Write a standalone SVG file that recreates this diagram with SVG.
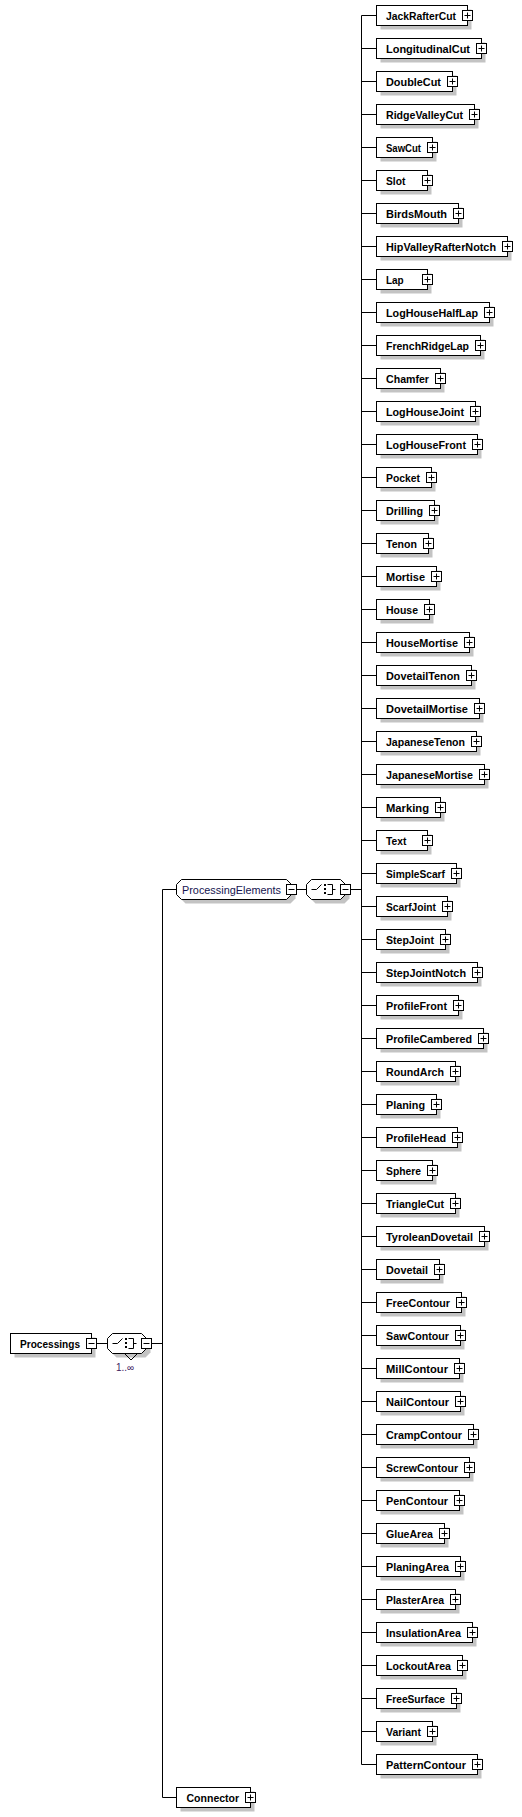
<svg xmlns="http://www.w3.org/2000/svg" width="522" height="1817" viewBox="0 0 522 1817">
<style>
.bx{fill:#fff;stroke:#000;stroke-width:1}
.sh{fill:#c3c3c3;stroke:none}
.ln{fill:none;stroke:#000;stroke-width:1}
.lb{font-family:"Liberation Sans",Arial,sans-serif;font-size:11px;font-weight:bold;fill:#000}
.lr{font-family:"Liberation Sans",Arial,sans-serif;font-size:11px;fill:#141450}
.oc{font-family:"Liberation Sans",Arial,sans-serif;font-size:10px;fill:#402060}
</style>
<defs>
<g id="plus"><rect x="-5" y="-5" width="10" height="10" class="bx"/><path d="M-3 0H3M0-3V3" class="ln"/></g>
<g id="minus"><rect x="-5" y="-5" width="10" height="10" class="bx"/><path d="M-3 0H3" class="ln"/></g>
<path id="oct" d="M5 0H34L39 5V15L34 20H5L0 15V5Z"/>
<g id="seqsym"><path d="M5 10H10L15 5M21 5H26V15H21M26 10H29" class="ln"/><rect x="17.5" y="4.5" width="2" height="2"/><rect x="17.5" y="8.5" width="2" height="2"/><rect x="17.5" y="12.5" width="2" height="2"/></g>
</defs>
<g id="connectors" class="ln">
<path d="M361.5 15.5V1764.5M162.5 889.5V1797.5"/>
<path d="M361.5 15.5H376.5M361.5 48.5H376.5M361.5 81.5H376.5M361.5 114.5H376.5M361.5 147.5H376.5M361.5 180.5H376.5M361.5 213.5H376.5M361.5 246.5H376.5M361.5 279.5H376.5M361.5 312.5H376.5M361.5 345.5H376.5M361.5 378.5H376.5M361.5 411.5H376.5M361.5 444.5H376.5M361.5 477.5H376.5M361.5 510.5H376.5M361.5 543.5H376.5M361.5 576.5H376.5M361.5 609.5H376.5M361.5 642.5H376.5M361.5 675.5H376.5M361.5 708.5H376.5M361.5 741.5H376.5M361.5 774.5H376.5M361.5 807.5H376.5M361.5 840.5H376.5M361.5 873.5H376.5M361.5 906.5H376.5M361.5 939.5H376.5M361.5 972.5H376.5M361.5 1005.5H376.5M361.5 1038.5H376.5M361.5 1071.5H376.5M361.5 1104.5H376.5M361.5 1137.5H376.5M361.5 1170.5H376.5M361.5 1203.5H376.5M361.5 1236.5H376.5M361.5 1269.5H376.5M361.5 1302.5H376.5M361.5 1335.5H376.5M361.5 1368.5H376.5M361.5 1401.5H376.5M361.5 1434.5H376.5M361.5 1467.5H376.5M361.5 1500.5H376.5M361.5 1533.5H376.5M361.5 1566.5H376.5M361.5 1599.5H376.5M361.5 1632.5H376.5M361.5 1665.5H376.5M361.5 1698.5H376.5M361.5 1731.5H376.5M361.5 1764.5H376.5"/>
<path d="M96.5 1343.5H107.5M151.5 1343.5H162.5M162.5 889.5H176.5M296.5 889.5H306.5M350.5 889.5H361.5M162.5 1797.5H176.5"/>
</g>
<g id="Processings">
<rect x="14.5" y="1337.5" width="81" height="20" class="sh"/>
<rect x="10.5" y="1333.5" width="81" height="20" class="bx"/>
<text x="20" y="1348" class="lb" textLength="60" lengthAdjust="spacingAndGlyphs">Processings</text>
<use href="#minus" x="91.5" y="1343.5"/>
</g>
<g id="seq-root">
<use href="#oct" x="111.5" y="1337.5" class="sh"/>
<path d="M125 1354L131 1360L137 1354" class="ln"/>
<use href="#oct" x="107.5" y="1333.5" class="bx"/>
<use href="#seqsym" x="107.5" y="1333.5"/>
<use href="#minus" x="146.5" y="1343.5"/>
<text x="125" y="1371" class="oc" text-anchor="middle">1..∞</text>
</g>
<g id="ProcessingElements">
<path d="M185.5 883.5H290.5L295.5 888.5V898.5L290.5 903.5H185.5L180.5 898.5V888.5Z" class="sh"/>
<path d="M181.5 879.5H286.5L291.5 884.5V894.5L286.5 899.5H181.5L176.5 894.5V884.5Z" class="bx"/>
<text x="182" y="894" class="lr" textLength="99" lengthAdjust="spacingAndGlyphs">ProcessingElements</text>
<use href="#minus" x="291.5" y="889.5"/>
</g>
<g id="seq-elements">
<use href="#oct" x="310.5" y="883.5" class="sh"/>
<use href="#oct" x="306.5" y="879.5" class="bx"/>
<use href="#seqsym" x="306.5" y="879.5"/>
<use href="#minus" x="345.5" y="889.5"/>
</g>
<g id="Connector">
<rect x="180.5" y="1791.5" width="74" height="20" class="sh"/>
<rect x="176.5" y="1787.5" width="74" height="20" class="bx"/>
<text x="186.5" y="1802" class="lb" textLength="52.6" lengthAdjust="spacingAndGlyphs">Connector</text>
<use href="#plus" x="250.5" y="1797.5"/>
</g>
<g id="JackRafterCut" transform="translate(0,0)"><rect x="380.5" y="9.5" width="91" height="20" class="sh"/><rect x="376.5" y="5.5" width="91" height="20" class="bx"/><text x="386" y="20" class="lb" textLength="70" lengthAdjust="spacingAndGlyphs">JackRafterCut</text><use href="#plus" x="467.5" y="15.5"/></g>
<g id="LongitudinalCut" transform="translate(0,33)"><rect x="380.5" y="9.5" width="105" height="20" class="sh"/><rect x="376.5" y="5.5" width="105" height="20" class="bx"/><text x="386" y="20" class="lb" textLength="84" lengthAdjust="spacingAndGlyphs">LongitudinalCut</text><use href="#plus" x="481.5" y="15.5"/></g>
<g id="DoubleCut" transform="translate(0,66)"><rect x="380.5" y="9.5" width="76" height="20" class="sh"/><rect x="376.5" y="5.5" width="76" height="20" class="bx"/><text x="386" y="20" class="lb" textLength="55" lengthAdjust="spacingAndGlyphs">DoubleCut</text><use href="#plus" x="452.5" y="15.5"/></g>
<g id="RidgeValleyCut" transform="translate(0,99)"><rect x="380.5" y="9.5" width="98" height="20" class="sh"/><rect x="376.5" y="5.5" width="98" height="20" class="bx"/><text x="386" y="20" class="lb" textLength="77" lengthAdjust="spacingAndGlyphs">RidgeValleyCut</text><use href="#plus" x="474.5" y="15.5"/></g>
<g id="SawCut" transform="translate(0,132)"><rect x="380.5" y="9.5" width="56" height="20" class="sh"/><rect x="376.5" y="5.5" width="56" height="20" class="bx"/><text x="386" y="20" class="lb" textLength="35" lengthAdjust="spacingAndGlyphs">SawCut</text><use href="#plus" x="432.5" y="15.5"/></g>
<g id="Slot" transform="translate(0,165)"><rect x="380.5" y="9.5" width="51" height="20" class="sh"/><rect x="376.5" y="5.5" width="51" height="20" class="bx"/><text x="386" y="20" class="lb" textLength="19.3" lengthAdjust="spacingAndGlyphs">Slot</text><use href="#plus" x="427.5" y="15.5"/></g>
<g id="BirdsMouth" transform="translate(0,198)"><rect x="380.5" y="9.5" width="82" height="20" class="sh"/><rect x="376.5" y="5.5" width="82" height="20" class="bx"/><text x="386" y="20" class="lb" textLength="61" lengthAdjust="spacingAndGlyphs">BirdsMouth</text><use href="#plus" x="458.5" y="15.5"/></g>
<g id="HipValleyRafterNotch" transform="translate(0,231)"><rect x="380.5" y="9.5" width="131" height="20" class="sh"/><rect x="376.5" y="5.5" width="131" height="20" class="bx"/><text x="386" y="20" class="lb" textLength="110" lengthAdjust="spacingAndGlyphs">HipValleyRafterNotch</text><use href="#plus" x="507.5" y="15.5"/></g>
<g id="Lap" transform="translate(0,264)"><rect x="380.5" y="9.5" width="51" height="20" class="sh"/><rect x="376.5" y="5.5" width="51" height="20" class="bx"/><text x="386" y="20" class="lb" textLength="17.7" lengthAdjust="spacingAndGlyphs">Lap</text><use href="#plus" x="427.5" y="15.5"/></g>
<g id="LogHouseHalfLap" transform="translate(0,297)"><rect x="380.5" y="9.5" width="113" height="20" class="sh"/><rect x="376.5" y="5.5" width="113" height="20" class="bx"/><text x="386" y="20" class="lb" textLength="92" lengthAdjust="spacingAndGlyphs">LogHouseHalfLap</text><use href="#plus" x="489.5" y="15.5"/></g>
<g id="FrenchRidgeLap" transform="translate(0,330)"><rect x="380.5" y="9.5" width="104" height="20" class="sh"/><rect x="376.5" y="5.5" width="104" height="20" class="bx"/><text x="386" y="20" class="lb" textLength="83" lengthAdjust="spacingAndGlyphs">FrenchRidgeLap</text><use href="#plus" x="480.5" y="15.5"/></g>
<g id="Chamfer" transform="translate(0,363)"><rect x="380.5" y="9.5" width="64" height="20" class="sh"/><rect x="376.5" y="5.5" width="64" height="20" class="bx"/><text x="386" y="20" class="lb" textLength="43" lengthAdjust="spacingAndGlyphs">Chamfer</text><use href="#plus" x="440.5" y="15.5"/></g>
<g id="LogHouseJoint" transform="translate(0,396)"><rect x="380.5" y="9.5" width="99" height="20" class="sh"/><rect x="376.5" y="5.5" width="99" height="20" class="bx"/><text x="386" y="20" class="lb" textLength="78" lengthAdjust="spacingAndGlyphs">LogHouseJoint</text><use href="#plus" x="475.5" y="15.5"/></g>
<g id="LogHouseFront" transform="translate(0,429)"><rect x="380.5" y="9.5" width="101" height="20" class="sh"/><rect x="376.5" y="5.5" width="101" height="20" class="bx"/><text x="386" y="20" class="lb" textLength="80" lengthAdjust="spacingAndGlyphs">LogHouseFront</text><use href="#plus" x="477.5" y="15.5"/></g>
<g id="Pocket" transform="translate(0,462)"><rect x="380.5" y="9.5" width="55" height="20" class="sh"/><rect x="376.5" y="5.5" width="55" height="20" class="bx"/><text x="386" y="20" class="lb" textLength="34" lengthAdjust="spacingAndGlyphs">Pocket</text><use href="#plus" x="431.5" y="15.5"/></g>
<g id="Drilling" transform="translate(0,495)"><rect x="380.5" y="9.5" width="58" height="20" class="sh"/><rect x="376.5" y="5.5" width="58" height="20" class="bx"/><text x="386" y="20" class="lb" textLength="37" lengthAdjust="spacingAndGlyphs">Drilling</text><use href="#plus" x="434.5" y="15.5"/></g>
<g id="Tenon" transform="translate(0,528)"><rect x="380.5" y="9.5" width="52" height="20" class="sh"/><rect x="376.5" y="5.5" width="52" height="20" class="bx"/><text x="386" y="20" class="lb" textLength="31" lengthAdjust="spacingAndGlyphs">Tenon</text><use href="#plus" x="428.5" y="15.5"/></g>
<g id="Mortise" transform="translate(0,561)"><rect x="380.5" y="9.5" width="60" height="20" class="sh"/><rect x="376.5" y="5.5" width="60" height="20" class="bx"/><text x="386" y="20" class="lb" textLength="39" lengthAdjust="spacingAndGlyphs">Mortise</text><use href="#plus" x="436.5" y="15.5"/></g>
<g id="House" transform="translate(0,594)"><rect x="380.5" y="9.5" width="53" height="20" class="sh"/><rect x="376.5" y="5.5" width="53" height="20" class="bx"/><text x="386" y="20" class="lb" textLength="32" lengthAdjust="spacingAndGlyphs">House</text><use href="#plus" x="429.5" y="15.5"/></g>
<g id="HouseMortise" transform="translate(0,627)"><rect x="380.5" y="9.5" width="93" height="20" class="sh"/><rect x="376.5" y="5.5" width="93" height="20" class="bx"/><text x="386" y="20" class="lb" textLength="72" lengthAdjust="spacingAndGlyphs">HouseMortise</text><use href="#plus" x="469.5" y="15.5"/></g>
<g id="DovetailTenon" transform="translate(0,660)"><rect x="380.5" y="9.5" width="95" height="20" class="sh"/><rect x="376.5" y="5.5" width="95" height="20" class="bx"/><text x="386" y="20" class="lb" textLength="74" lengthAdjust="spacingAndGlyphs">DovetailTenon</text><use href="#plus" x="471.5" y="15.5"/></g>
<g id="DovetailMortise" transform="translate(0,693)"><rect x="380.5" y="9.5" width="103" height="20" class="sh"/><rect x="376.5" y="5.5" width="103" height="20" class="bx"/><text x="386" y="20" class="lb" textLength="82" lengthAdjust="spacingAndGlyphs">DovetailMortise</text><use href="#plus" x="479.5" y="15.5"/></g>
<g id="JapaneseTenon" transform="translate(0,726)"><rect x="380.5" y="9.5" width="100" height="20" class="sh"/><rect x="376.5" y="5.5" width="100" height="20" class="bx"/><text x="386" y="20" class="lb" textLength="79" lengthAdjust="spacingAndGlyphs">JapaneseTenon</text><use href="#plus" x="476.5" y="15.5"/></g>
<g id="JapaneseMortise" transform="translate(0,759)"><rect x="380.5" y="9.5" width="108" height="20" class="sh"/><rect x="376.5" y="5.5" width="108" height="20" class="bx"/><text x="386" y="20" class="lb" textLength="87" lengthAdjust="spacingAndGlyphs">JapaneseMortise</text><use href="#plus" x="484.5" y="15.5"/></g>
<g id="Marking" transform="translate(0,792)"><rect x="380.5" y="9.5" width="64" height="20" class="sh"/><rect x="376.5" y="5.5" width="64" height="20" class="bx"/><text x="386" y="20" class="lb" textLength="43" lengthAdjust="spacingAndGlyphs">Marking</text><use href="#plus" x="440.5" y="15.5"/></g>
<g id="Text" transform="translate(0,825)"><rect x="380.5" y="9.5" width="51" height="20" class="sh"/><rect x="376.5" y="5.5" width="51" height="20" class="bx"/><text x="386" y="20" class="lb" textLength="20.3" lengthAdjust="spacingAndGlyphs">Text</text><use href="#plus" x="427.5" y="15.5"/></g>
<g id="SimpleScarf" transform="translate(0,858)"><rect x="380.5" y="9.5" width="80" height="20" class="sh"/><rect x="376.5" y="5.5" width="80" height="20" class="bx"/><text x="386" y="20" class="lb" textLength="59" lengthAdjust="spacingAndGlyphs">SimpleScarf</text><use href="#plus" x="456.5" y="15.5"/></g>
<g id="ScarfJoint" transform="translate(0,891)"><rect x="380.5" y="9.5" width="71" height="20" class="sh"/><rect x="376.5" y="5.5" width="71" height="20" class="bx"/><text x="386" y="20" class="lb" textLength="50" lengthAdjust="spacingAndGlyphs">ScarfJoint</text><use href="#plus" x="447.5" y="15.5"/></g>
<g id="StepJoint" transform="translate(0,924)"><rect x="380.5" y="9.5" width="69" height="20" class="sh"/><rect x="376.5" y="5.5" width="69" height="20" class="bx"/><text x="386" y="20" class="lb" textLength="48" lengthAdjust="spacingAndGlyphs">StepJoint</text><use href="#plus" x="445.5" y="15.5"/></g>
<g id="StepJointNotch" transform="translate(0,957)"><rect x="380.5" y="9.5" width="101" height="20" class="sh"/><rect x="376.5" y="5.5" width="101" height="20" class="bx"/><text x="386" y="20" class="lb" textLength="80" lengthAdjust="spacingAndGlyphs">StepJointNotch</text><use href="#plus" x="477.5" y="15.5"/></g>
<g id="ProfileFront" transform="translate(0,990)"><rect x="380.5" y="9.5" width="82" height="20" class="sh"/><rect x="376.5" y="5.5" width="82" height="20" class="bx"/><text x="386" y="20" class="lb" textLength="61" lengthAdjust="spacingAndGlyphs">ProfileFront</text><use href="#plus" x="458.5" y="15.5"/></g>
<g id="ProfileCambered" transform="translate(0,1023)"><rect x="380.5" y="9.5" width="107" height="20" class="sh"/><rect x="376.5" y="5.5" width="107" height="20" class="bx"/><text x="386" y="20" class="lb" textLength="86" lengthAdjust="spacingAndGlyphs">ProfileCambered</text><use href="#plus" x="483.5" y="15.5"/></g>
<g id="RoundArch" transform="translate(0,1056)"><rect x="380.5" y="9.5" width="79" height="20" class="sh"/><rect x="376.5" y="5.5" width="79" height="20" class="bx"/><text x="386" y="20" class="lb" textLength="58" lengthAdjust="spacingAndGlyphs">RoundArch</text><use href="#plus" x="455.5" y="15.5"/></g>
<g id="Planing" transform="translate(0,1089)"><rect x="380.5" y="9.5" width="60" height="20" class="sh"/><rect x="376.5" y="5.5" width="60" height="20" class="bx"/><text x="386" y="20" class="lb" textLength="39" lengthAdjust="spacingAndGlyphs">Planing</text><use href="#plus" x="436.5" y="15.5"/></g>
<g id="ProfileHead" transform="translate(0,1122)"><rect x="380.5" y="9.5" width="81" height="20" class="sh"/><rect x="376.5" y="5.5" width="81" height="20" class="bx"/><text x="386" y="20" class="lb" textLength="60" lengthAdjust="spacingAndGlyphs">ProfileHead</text><use href="#plus" x="457.5" y="15.5"/></g>
<g id="Sphere" transform="translate(0,1155)"><rect x="380.5" y="9.5" width="56" height="20" class="sh"/><rect x="376.5" y="5.5" width="56" height="20" class="bx"/><text x="386" y="20" class="lb" textLength="35" lengthAdjust="spacingAndGlyphs">Sphere</text><use href="#plus" x="432.5" y="15.5"/></g>
<g id="TriangleCut" transform="translate(0,1188)"><rect x="380.5" y="9.5" width="79" height="20" class="sh"/><rect x="376.5" y="5.5" width="79" height="20" class="bx"/><text x="386" y="20" class="lb" textLength="58" lengthAdjust="spacingAndGlyphs">TriangleCut</text><use href="#plus" x="455.5" y="15.5"/></g>
<g id="TyroleanDovetail" transform="translate(0,1221)"><rect x="380.5" y="9.5" width="108" height="20" class="sh"/><rect x="376.5" y="5.5" width="108" height="20" class="bx"/><text x="386" y="20" class="lb" textLength="87" lengthAdjust="spacingAndGlyphs">TyroleanDovetail</text><use href="#plus" x="484.5" y="15.5"/></g>
<g id="Dovetail" transform="translate(0,1254)"><rect x="380.5" y="9.5" width="63" height="20" class="sh"/><rect x="376.5" y="5.5" width="63" height="20" class="bx"/><text x="386" y="20" class="lb" textLength="42" lengthAdjust="spacingAndGlyphs">Dovetail</text><use href="#plus" x="439.5" y="15.5"/></g>
<g id="FreeContour" transform="translate(0,1287)"><rect x="380.5" y="9.5" width="85" height="20" class="sh"/><rect x="376.5" y="5.5" width="85" height="20" class="bx"/><text x="386" y="20" class="lb" textLength="64" lengthAdjust="spacingAndGlyphs">FreeContour</text><use href="#plus" x="461.5" y="15.5"/></g>
<g id="SawContour" transform="translate(0,1320)"><rect x="380.5" y="9.5" width="84" height="20" class="sh"/><rect x="376.5" y="5.5" width="84" height="20" class="bx"/><text x="386" y="20" class="lb" textLength="63" lengthAdjust="spacingAndGlyphs">SawContour</text><use href="#plus" x="460.5" y="15.5"/></g>
<g id="MillContour" transform="translate(0,1353)"><rect x="380.5" y="9.5" width="83" height="20" class="sh"/><rect x="376.5" y="5.5" width="83" height="20" class="bx"/><text x="386" y="20" class="lb" textLength="62" lengthAdjust="spacingAndGlyphs">MillContour</text><use href="#plus" x="459.5" y="15.5"/></g>
<g id="NailContour" transform="translate(0,1386)"><rect x="380.5" y="9.5" width="84" height="20" class="sh"/><rect x="376.5" y="5.5" width="84" height="20" class="bx"/><text x="386" y="20" class="lb" textLength="63" lengthAdjust="spacingAndGlyphs">NailContour</text><use href="#plus" x="460.5" y="15.5"/></g>
<g id="CrampContour" transform="translate(0,1419)"><rect x="380.5" y="9.5" width="97" height="20" class="sh"/><rect x="376.5" y="5.5" width="97" height="20" class="bx"/><text x="386" y="20" class="lb" textLength="76" lengthAdjust="spacingAndGlyphs">CrampContour</text><use href="#plus" x="473.5" y="15.5"/></g>
<g id="ScrewContour" transform="translate(0,1452)"><rect x="380.5" y="9.5" width="93" height="20" class="sh"/><rect x="376.5" y="5.5" width="93" height="20" class="bx"/><text x="386" y="20" class="lb" textLength="72" lengthAdjust="spacingAndGlyphs">ScrewContour</text><use href="#plus" x="469.5" y="15.5"/></g>
<g id="PenContour" transform="translate(0,1485)"><rect x="380.5" y="9.5" width="83" height="20" class="sh"/><rect x="376.5" y="5.5" width="83" height="20" class="bx"/><text x="386" y="20" class="lb" textLength="62" lengthAdjust="spacingAndGlyphs">PenContour</text><use href="#plus" x="459.5" y="15.5"/></g>
<g id="GlueArea" transform="translate(0,1518)"><rect x="380.5" y="9.5" width="68" height="20" class="sh"/><rect x="376.5" y="5.5" width="68" height="20" class="bx"/><text x="386" y="20" class="lb" textLength="47" lengthAdjust="spacingAndGlyphs">GlueArea</text><use href="#plus" x="444.5" y="15.5"/></g>
<g id="PlaningArea" transform="translate(0,1551)"><rect x="380.5" y="9.5" width="84" height="20" class="sh"/><rect x="376.5" y="5.5" width="84" height="20" class="bx"/><text x="386" y="20" class="lb" textLength="63" lengthAdjust="spacingAndGlyphs">PlaningArea</text><use href="#plus" x="460.5" y="15.5"/></g>
<g id="PlasterArea" transform="translate(0,1584)"><rect x="380.5" y="9.5" width="79" height="20" class="sh"/><rect x="376.5" y="5.5" width="79" height="20" class="bx"/><text x="386" y="20" class="lb" textLength="58" lengthAdjust="spacingAndGlyphs">PlasterArea</text><use href="#plus" x="455.5" y="15.5"/></g>
<g id="InsulationArea" transform="translate(0,1617)"><rect x="380.5" y="9.5" width="96" height="20" class="sh"/><rect x="376.5" y="5.5" width="96" height="20" class="bx"/><text x="386" y="20" class="lb" textLength="75" lengthAdjust="spacingAndGlyphs">InsulationArea</text><use href="#plus" x="472.5" y="15.5"/></g>
<g id="LockoutArea" transform="translate(0,1650)"><rect x="380.5" y="9.5" width="86" height="20" class="sh"/><rect x="376.5" y="5.5" width="86" height="20" class="bx"/><text x="386" y="20" class="lb" textLength="65" lengthAdjust="spacingAndGlyphs">LockoutArea</text><use href="#plus" x="462.5" y="15.5"/></g>
<g id="FreeSurface" transform="translate(0,1683)"><rect x="380.5" y="9.5" width="80" height="20" class="sh"/><rect x="376.5" y="5.5" width="80" height="20" class="bx"/><text x="386" y="20" class="lb" textLength="59" lengthAdjust="spacingAndGlyphs">FreeSurface</text><use href="#plus" x="456.5" y="15.5"/></g>
<g id="Variant" transform="translate(0,1716)"><rect x="380.5" y="9.5" width="56" height="20" class="sh"/><rect x="376.5" y="5.5" width="56" height="20" class="bx"/><text x="386" y="20" class="lb" textLength="35" lengthAdjust="spacingAndGlyphs">Variant</text><use href="#plus" x="432.5" y="15.5"/></g>
<g id="PatternContour" transform="translate(0,1749)"><rect x="380.5" y="9.5" width="101" height="20" class="sh"/><rect x="376.5" y="5.5" width="101" height="20" class="bx"/><text x="386" y="20" class="lb" textLength="80" lengthAdjust="spacingAndGlyphs">PatternContour</text><use href="#plus" x="477.5" y="15.5"/></g>
</svg>
